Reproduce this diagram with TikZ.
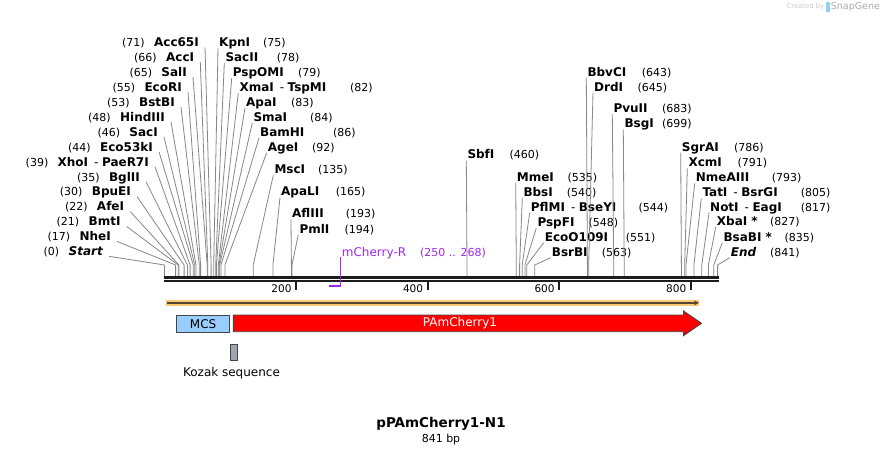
\documentclass[tikz,border=0pt]{standalone}
\usepackage{fontspec}
\setmainfont{DejaVu Sans}
\usetikzlibrary{calc,arrows.meta}
\definecolor{leadgray}{RGB}{135,135,135}
\definecolor{bbcol}{RGB}{28,28,28}
\definecolor{primerpurple}{RGB}{160,40,240}
\definecolor{mcsblue}{RGB}{153,204,255}
\definecolor{bandorange}{RGB}{255,202,115}
\definecolor{bandline}{RGB}{85,70,52}
\definecolor{kozakgray}{RGB}{160,166,176}
\definecolor{boxedge}{RGB}{70,70,70}
\definecolor{wmgray}{RGB}{200,203,207}
\definecolor{wmgray2}{RGB}{165,172,180}
\definecolor{wmblue}{RGB}{150,205,245}
\tikzset{
  nm/.style={inner sep=0pt, font=\fontsize{12}{14}\selectfont\bfseries},
  num/.style={inner sep=0pt, font=\fontsize{11}{13}\selectfont},
  lead/.style={draw=leadgray, line width=0.8pt},
  bbline/.style={draw=bbcol, line width=2.5pt},
  rulertick/.style={draw=bbcol, line width=2pt},
  rulerlbl/.style={inner sep=0pt, anchor=base east, font=\fontsize{10.5}{12}\selectfont},
  featlbl/.style={inner sep=0pt, font=\fontsize{12}{14}\selectfont},
}
\newcommand\LSite[6]{%
  \node[nm, anchor=base east] (n#1) at (#2,#3+4.3) {#4};
  \node[num, anchor=base east] (m#1) at ($(n#1.base west)+(-9,0)$) {#5};
  \coordinate (t#1) at (#6,265);
  \coordinate (b#1) at (#6,276);
  \draw[lead] ($(n#1.base east)+(6,0.7)$) -- (t#1) -- (b#1);
}
\newcommand\RSite[7]{%
  \node[nm, anchor=base west] (n#1) at (#2,#3+4.3) {#4};
  \node[num, anchor=base west] (m#1) at (#5,#3+4.3) {#6};
  \coordinate (t#1) at (#7,265);
  \coordinate (b#1) at (#7,276);
  \draw[lead] ($(n#1.base west)+(-1,1.7)$) -- (t#1) -- (b#1);
}
\begin{document}
\begin{tikzpicture}[x=1pt,y=-1pt]
\useasboundingbox (0,0) rectangle (884,455);
\fill[white] (0,0) rectangle (884,455);

% watermark
\node[inner sep=0pt, anchor=west, text=wmgray, font=\fontsize{6.8}{8}\selectfont] (wm1) at (786.5,7) {Created by};
\fill[wmblue] (826,2) rectangle (829.5,12);
\node[inner sep=0pt, anchor=west, text=wmgray2, font=\fontsize{9.5}{11}\selectfont] (wm2) at (830.7,7) {SnapGene};

% left labels
\LSite{acc65}{199}{42.3}{Acc65I}{(71)}{211.1}
\LSite{acc}{194.3}{57.2}{AccI}{(66)}{207.8}
\LSite{sal}{187}{72.2}{SalI}{(65)}{207.2}
\LSite{ecori}{182}{87.1}{EcoRI}{(55)}{200.6}
\LSite{bstbi}{175}{102}{BstBI}{(53)}{199.3}
\LSite{hind}{165}{117}{HindIII}{(48)}{196.0}
\LSite{saci}{158}{131.9}{SacI}{(46)}{194.7}
\LSite{ecofs}{153}{146.8}{Eco53kI}{(44)}{193.3}
\LSite{xho}{149}{161.7}{XhoI\hspace{6pt}\textmd{-}\hspace{3.5pt}PaeR7I}{(39)}{190.1}
\LSite{bgl}{140}{176.7}{BglII}{(35)}{187.4}
\LSite{bpu}{131}{191.6}{BpuEI}{(30)}{184.1}
\LSite{afe}{124.3}{206.5}{AfeI}{(22)}{178.9}
\LSite{bmt}{120.7}{221.5}{BmtI}{(21)}{178.2}
\LSite{nhe}{111}{236.4}{NheI}{(17)}{175.6}
\LSite{start}{103}{251.3}{\itshape Start}{(0)}{164.4}

% right labels, first cluster
\RSite{kpn}{219}{42.3}{KpnI}{263}{(75)}{213.7}
\RSite{sacii}{225.3}{57.2}{SacII}{276.7}{(78)}{215.7}
\RSite{pspomi}{232.7}{72.2}{PspOMI}{298}{(79)}{216.4}
\RSite{xma}{239.3}{87.1}{XmaI\hspace{6pt}\textmd{-}\hspace{3.5pt}TspMI}{350}{(82)}{218.3}
\RSite{apai}{246}{102}{ApaI}{291}{(83)}{219.0}
\RSite{sma}{253.3}{117}{SmaI}{310}{(84)}{219.7}
\RSite{bam}{260}{131.9}{BamHI}{333}{(86)}{221.0}
\RSite{age}{267.7}{146.8}{AgeI}{312}{(92)}{224.9}
\RSite{msc}{274.3}{169.3}{MscI}{318}{(135)}{253.2}
\RSite{apali}{281}{191.6}{ApaLI}{335.7}{(165)}{272.9}
\RSite{afliii}{292}{213.3}{AflIII}{345.7}{(193)}{291.4}
\RSite{pml}{299.3}{228.7}{PmlI}{344.3}{(194)}{292.0}

% middle
\RSite{sbf}{467.3}{154.3}{SbfI}{509.3}{(460)}{467.0}
\RSite{mme}{516.7}{176.7}{MmeI}{567.3}{(535)}{516.3}
\RSite{bbs}{523.3}{191.7}{BbsI}{566.7}{(540)}{519.6}
\RSite{pflm}{530.7}{206.7}{PflMI\hspace{6pt}\textmd{-}\hspace{3.5pt}BseYI}{638.3}{(544)}{522.2}
\RSite{pspfi}{537.3}{222}{PspFI}{588.3}{(548)}{524.9}
\RSite{ecoo}{544.7}{236.7}{EcoO109I}{625.7}{(551)}{526.8}
\RSite{bsrbi}{551.7}{251.7}{BsrBI}{601.7}{(563)}{534.7}
\RSite{bbvci}{587.3}{71.7}{BbvCI}{641.7}{(643)}{587.4}
\RSite{drd}{594}{86.7}{DrdI}{637.3}{(645)}{588.7}
\RSite{pvu}{613.3}{108.3}{PvuII}{662}{(683)}{613.7}
\RSite{bsg}{624.3}{123.3}{BsgI}{662}{(699)}{624.2}

% right cluster
\RSite{sgrai}{681.7}{146.7}{SgrAI}{734}{(786)}{681.4}
\RSite{xcm}{688.3}{162.3}{XcmI}{737.3}{(791)}{684.7}
\RSite{nme}{695.7}{177.3}{NmeAIII}{771.7}{(793)}{686.0}
\RSite{tat}{702.3}{192.3}{TatI\hspace{6pt}\textmd{-}\hspace{3.5pt}BsrGI}{800.7}{(805)}{693.9}
\RSite{noti}{710}{206.7}{NotI\hspace{6pt}\textmd{-}\hspace{3.5pt}EagI}{800.7}{(817)}{701.8}
\RSite{xba}{716.7}{221}{XbaI *}{770}{(827)}{708.4}
\RSite{bsabi}{723.3}{236.7}{BsaBI *}{784.3}{(835)}{713.7}
\RSite{endsite}{730.7}{251.7}{\itshape End}{770}{(841)}{717.6}

% primer
\node[featlbl, anchor=base west, text=primerpurple] (plbl) at (341.7,256) {mCherry-R};
\node[num, anchor=base west, text=primerpurple] (pnum) at (420,256) {(250 .. 268)};
\coordinate (ptop) at (340.7,257);
\coordinate (pbot) at (340.7,285.7);
\coordinate (pleft) at (328.9,285.7);

% backbone
\coordinate (bbA) at (164.4,277.3);
\coordinate (bbB) at (718.6,277.3);
\coordinate (bbC) at (164.4,281.2);
\coordinate (bbD) at (718.6,281.2);
\draw[bbline] (bbA) -- (bbB);
\draw[bbline] (bbC) -- (bbD);

% ruler
\foreach \v/\xx in {200/296.0,400/427.6,600/559.1,800/690.7}{
  \coordinate (rt\v) at (\xx,282);
  \coordinate (rb\v) at (\xx,289.7);
  \draw[rulertick] (rt\v) -- (rb\v);
  \node[rulerlbl] (rl\v) at (\xx-4.3,292) {\v};
}

\draw[primerpurple, line width=0.9pt] (ptop) -- (pbot);
\draw[primerpurple, line width=2pt] (pleft) -- ($(pbot)+(0.45,0)$);

% orange band with arrow
\coordinate (baL) at (166,302.8);
\coordinate (baR) at (699,302.8);
\draw[bandorange, line width=5.7pt] (baL) -- (baR);
\draw[bandline, line width=2pt, -{Stealth[length=5pt,width=5pt]}] ($(baL)+(1.2,0)$) -- ($(baR)+(0,0)$);

% MCS
\node[draw=boxedge, fill=mcsblue, line width=0.9pt, minimum width=53.3pt, minimum height=16.7pt, inner sep=0pt, featlbl, anchor=north west] (mcs) at (176,315) {MCS};

% PAmCherry1 arrow
\draw[draw=boxedge, fill=red, line width=0.9pt]
  (233.4,315) -- (683.5,315) -- (683.5,311) -- (701.5,323.3) -- (683.5,335.7) -- (683.5,331.7) -- (233.4,331.7) -- cycle;
\node[featlbl, text=white] (pam) at (460,323.3) {PAmCherry1};

% Kozak
\node[draw=boxedge, fill=kozakgray, line width=0.8pt, minimum width=6.3pt, minimum height=16pt, inner sep=0pt, anchor=north west] (kozak) at (230.3,344.3) {};
\node[featlbl] (kozaklbl) at (231.5,373.3) {Kozak sequence};

% title
\node[inner sep=0pt, font=\fontsize{13.5}{16}\selectfont\bfseries] (title) at (441,424.3) {pPAmCherry1-N1};
\node[inner sep=0pt, font=\fontsize{11}{13}\selectfont] (bp) at (441,439.3) {841 bp};
\end{tikzpicture}
\end{document}
